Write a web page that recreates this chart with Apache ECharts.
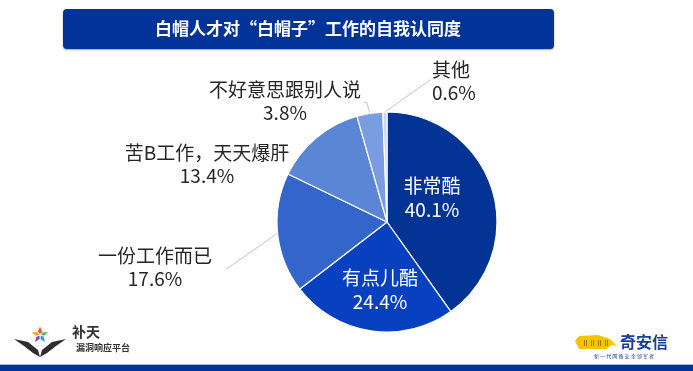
<!DOCTYPE html>
<html><head><meta charset="utf-8">
<script src="https://cdn.jsdelivr.net/npm/echarts@6/dist/echarts.min.js"></script>
<style>html,body{margin:0;padding:0;background:#fff}#c{width:693px;height:371px}</style>
</head><body><div id="c"></div>
<script>
const categories = ['非常酷', '有点儿酷', '一份工作而已', '苦B工作，天天爆肝', '不好意思跟别人说', '其他'];
const values = [40.1, 24.4, 17.6, 13.4, 3.8, 0.6];
const colors = ['#033495', '#0741c0', '#3365cb', '#5b86d5', '#7a9ce0', '#c8d7f2'];
const titleText = '白帽人才对“白帽子”工作的自我认同度';

const FONT = "'Noto Sans CJK SC', 'Noto Sans', sans-serif";
const insideIdx = [0, 1];
const noLineIdx = [3];
// label placement (styling only)
const labelPlace = {
  0: { x: 432, y: 198, align: 'center' },
  1: { x: 380, y: 290, align: 'center' },
  2: { x: 155, y: 267.5, align: 'center', line: [[228, 268], [226, 268]] },
  3: { x: 207, y: 164.5, align: 'center' },
  4: { x: 285, y: 101.5, align: 'center', line: [[367, 103], [364, 102]] },
  5: { x: 432, y: 81.5, align: 'left', line: [[430, 80], [431, 80]] }
};

const data = categories.map((name, i) => {
  const inside = insideIdx.includes(i);
  return {
    name, value: values[i],
    itemStyle: { color: colors[i] },
    label: inside ? { position: 'inside', color: '#fff', lineHeight: 24 } : { position: 'outside', color: '#262626' },
    labelLine: { show: !inside && !noLineIdx.includes(i) }
  };
});

// star logo pieces
const sc = [40, 335], sR = 9.5, sr = 4.2;
const starColors = ['#e94b35', '#5cb85c', '#3b8fe0', '#7d4fb5', '#f5a623'];
const starPieces = starColors.map((col, k) => {
  const a = (-90 + k * 72) * Math.PI / 180;
  const a1 = a - 36 * Math.PI / 180, a2 = a + 36 * Math.PI / 180;
  return {
    type: 'polygon',
    shape: { points: [sc, [sc[0] + sr * Math.cos(a1), sc[1] + sr * Math.sin(a1)], [sc[0] + sR * Math.cos(a), sc[1] + sR * Math.sin(a)], [sc[0] + sr * Math.cos(a2), sc[1] + sr * Math.sin(a2)]] },
    style: { fill: col, stroke: '#fff', lineWidth: 0.8 }
  };
});

const chart = echarts.init(document.getElementById('c'), null, { renderer: 'canvas' });
chart.setOption({
  backgroundColor: '#fff',
  animation: false,
  textStyle: { fontFamily: FONT },
  graphic: [
    { type: 'rect', shape: { x: 63, y: 9, width: 491, height: 40, r: 4 }, style: { fill: '#023399', shadowBlur: 2, shadowColor: 'rgba(0,0,0,0.35)', shadowOffsetY: 1 } },
    { type: 'text', x: 308, y: 29, style: { text: titleText, fill: '#fff', font: 'bold 17px ' + FONT, align: 'center', verticalAlign: 'middle' } },
    { type: 'rect', shape: { x: 0, y: 364, width: 693, height: 1 }, style: { fill: '#a9b8dc' } },
    { type: 'rect', shape: { x: 0, y: 365, width: 693, height: 6 }, style: { fill: '#023399' } },
    // left logo
    { type: 'polygon', shape: { points: [[14, 339], [28, 342], [38, 350], [40, 357], [33, 353], [24, 346]] }, style: { fill: '#2d2d2d' } },
    { type: 'polygon', shape: { points: [[66, 339], [52, 342], [42, 350], [40, 357], [47, 353], [56, 346]] }, style: { fill: '#2d2d2d' } },
    ...starPieces,
    { type: 'text', x: 72, y: 332, style: { text: '补天', fill: '#333', font: 'bold 14px ' + FONT, verticalAlign: 'middle' } },
    { type: 'text', x: 76, y: 348, style: { text: '漏洞响应平台', fill: '#333', font: 'bold 9px ' + FONT, verticalAlign: 'middle' } },
    // right logo
    { type: 'polygon', shape: { points: [[575, 341], [579, 336], [598, 335], [610, 339], [617, 346], [612, 345], [606, 349], [579, 349]] }, style: { fill: '#f5c400' } },
    { type: 'text', x: 582, y: 343, style: { text: 'ⅡⅡⅡⅡ', fill: '#6b5a00', font: '7px ' + FONT, verticalAlign: 'middle' } },
    { type: 'text', x: 620, y: 342, style: { text: '奇安信', fill: '#173d94', font: 'bold 16px ' + FONT, verticalAlign: 'middle' } },
    { type: 'text', x: 624, y: 356, style: { text: '新 一 代 网 络 安 全 领 军 者', fill: '#173d94', font: '5px ' + FONT, align: 'center', verticalAlign: 'middle' } }
  ],
  series: [{
    type: 'pie',
    center: [387, 222],
    radius: 110,
    startAngle: 90,
    clockwise: true,
    avoidLabelOverlap: false,
    itemStyle: { borderColor: '#fff', borderWidth: 1.2 },
    label: { formatter: '{b}\n{c}%', fontSize: 19, lineHeight: 23, fontFamily: FONT },
    labelLine: { lineStyle: { color: '#c4c4c4', width: 1 }, length: 10, length2: 10 },
    emphasis: { disabled: true },
    labelLayout: function (p) {
      const pl = labelPlace[p.dataIndex];
      const out = { x: pl.x, y: pl.y, align: pl.align, verticalAlign: 'middle' };
      if (pl.line && p.labelLinePoints) {
        out.labelLinePoints = [p.labelLinePoints[0]].concat(pl.line);
      }
      return out;
    },
    data
  }]
});
</script></body></html>
